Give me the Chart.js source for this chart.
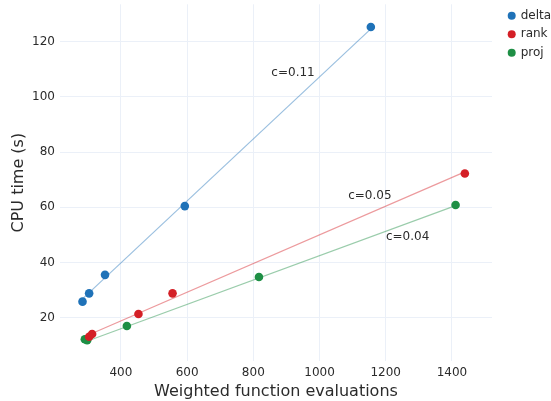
<!DOCTYPE html>
<html>
<head>
<meta charset="utf-8">
<script src="https://cdn.jsdelivr.net/npm/chart.js@4"></script>
<style>
  html, body { margin:0; padding:0; background:#fff; }
  #wrap { width:551px; height:401px; position:relative; }
</style>
</head>
<body>
<div id="wrap"><canvas id="chart"></canvas></div>
<script>
// measured points
const deltaX = [284, 304, 352, 593, 1155];
const deltaY = [25.8, 28.8, 35.5, 60.4, 125.3];
const rankX  = [304, 313, 453, 556, 1439];
const rankY  = [13.1, 14.1, 21.3, 28.8, 72.2];
const projX  = [291, 298, 418, 817, 1411];
const projY  = [12.2, 11.8, 17.0, 34.7, 60.8];

// fit lines (end points)
const deltaFitX = [284, 1155];
const deltaFitY = [26.8, 124.6];
const rankFitX  = [300, 1439];
const rankFitY  = [13.6, 72.8];
const projFitX  = [291, 1411];
const projFitY  = [11.2, 60.6];

const seriesNames = ["delta", "rank", "proj"];
const labelText = ["c=0.11", "c=0.05", "c=0.04"];
const labelX = [920, 1152, 1266];
const labelY = [108.5, 64.0, 49.1];

const xTicks = [400, 600, 800, 1000, 1200, 1400];
const yTicks = [20, 40, 60, 80, 100, 120];

const colors = ["#1f72b8", "#d41f26", "#1e8f45"];
const lineColors = ["rgba(31,114,184,0.45)", "rgba(212,31,38,0.45)", "rgba(30,143,69,0.45)"];
const FONT = "'DejaVu Sans', Verdana, sans-serif";
const TXT = "#2b2b2b";

function pts(xs, ys){
  return xs.map((x,i)=>({x:x, y:ys[i]}));
}

const pointSets = [pts(deltaX,deltaY), pts(rankX,rankY), pts(projX,projY)];
const fitSets = [pts(deltaFitX,deltaFitY), pts(rankFitX,rankFitY), pts(projFitX,projFitY)];

let datasets = [];
fitSets.forEach((d,i)=>{
  datasets.push({
    label: seriesNames[i]+" fit",
    data: d,
    showLine: true,
    borderColor: lineColors[i],
    borderWidth: 1.2,
    pointRadius: 0,
    order: 2
  });
});
pointSets.forEach((d,i)=>{
  datasets.push({
    label: seriesNames[i],
    data: d,
    showLine: false,
    backgroundColor: colors[i],
    borderColor: colors[i],
    borderWidth: 0,
    pointRadius: 4.3,
    order: 1
  });
});

/* legend + c= labels */
const extras = {
  id: "extras",
  afterDraw(chart){
    const ctx = chart.ctx;
    const xs = chart.scales.x, ys = chart.scales.y;
    ctx.save();
    ctx.font = "12px " + FONT;
    ctx.fillStyle = TXT;
    ctx.textAlign = "center";
    ctx.textBaseline = "middle";
    labelText.forEach((t,i)=>{
      ctx.fillText(t, xs.getPixelForValue(labelX[i]), ys.getPixelForValue(labelY[i]));
    });

    seriesNames.forEach((n,i)=>{
      const y = 15.7 + i*18.5;
      ctx.beginPath();
      ctx.arc(511.7, y, 4, 0, Math.PI*2);
      ctx.fillStyle = colors[i];
      ctx.fill();
      ctx.fillStyle = TXT;
      ctx.textAlign = "left";
      ctx.fillText(n, 520.7, y);
    });
    ctx.restore();
  }
};

new Chart(document.getElementById("chart"), {
  type: "scatter",
  data: { datasets: datasets },
  options: {
    responsive: true,
    maintainAspectRatio: false,
    animation: false,
    layout: { padding: { left:0, right:59, top:4, bottom:0 } },
    plugins: {
      legend: { display:false },
      tooltip: { enabled:false }
    },
    scales: {
      x: {
        type: "linear",
        min: 216, max: 1521,
        afterBuildTicks: s => { s.ticks = xTicks.map(v=>({value:v})); },
        afterFit: s => { s.height = 40; s.paddingLeft = 0; s.paddingRight = 0; },
        grid: { color:"#ebf0f8", drawTicks:false },
        border: { display:false },
        ticks: { padding:5, color:TXT, font:{ family:FONT, size:12 }, maxRotation:0,
                 callback: v => String(v) },
        title: { display:true, text:"Weighted function evaluations", color:TXT,
                 font:{ family:FONT, size:16 }, padding:{ top:0, bottom:0 } }
      },
      y: {
        type: "linear",
        min: 4.3, max: 133.5,
        afterBuildTicks: s => { s.ticks = yTicks.map(v=>({value:v})); },
        afterFit: s => { s.width = 60; s.paddingTop = 0; s.paddingBottom = 0; },
        grid: { color:"#ebf0f8", drawTicks:false },
        border: { display:false },
        ticks: { padding:5, color:TXT, font:{ family:FONT, size:12 },
                 callback: v => String(v) },
        title: { display:true, text:"CPU time (s)", color:TXT,
                 font:{ family:FONT, size:16 }, padding:{ top:9, bottom:0 } }
      }
    }
  },
  plugins: [extras]
});
</script>
</body>
</html>
